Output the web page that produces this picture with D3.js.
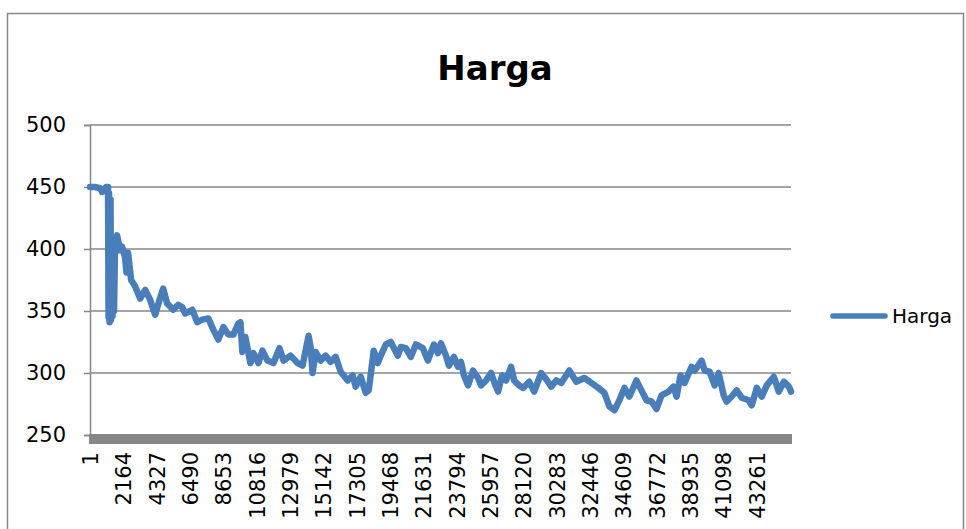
<!DOCTYPE html>
<html>
<head>
<meta charset="utf-8">
<script src="https://cdn.jsdelivr.net/npm/d3@7"></script>
<style>
  body { margin: 0; background: #fff; }
  text { font-family: "DejaVu Sans", sans-serif; fill: #000; }
</style>
</head>
<body>
<script>
// chart data (row number, price)
const seriesName = "Harga";
const rowCount = 45486;
const rows = [1, 325, 651, 781, 911, 1041, 1171, 1204, 1236, 1269, 1334, 1366, 1431, 1464, 1529, 1561, 1627, 1757, 1952, 2082,
  2277, 2370, 2472, 2667, 2928, 3253, 3578, 3904, 4229, 4489, 4749, 5010, 5400, 5725, 5985, 6181, 6636, 6961, 7287, 7677, 8002,
  8328, 8653, 8978, 9304, 9629, 9759, 9889, 10084, 10410, 10605, 10930, 11190, 11516, 11906, 12296, 12557, 13012, 13467, 13793, 14183,
  14313, 14443, 14639, 14964, 15289, 15614, 15940, 16265, 16720, 17046, 17241, 17566, 17892, 18087, 18412, 18673, 18867, 19193, 19518, 19974,
  20169, 20494, 20819, 21145, 21600, 21925, 22316, 22576, 22771, 23097, 23292, 23617, 23877, 24072, 24267, 24528, 24853, 25178, 25373, 25699,
  26024, 26219, 26479, 26740, 27000, 27325, 27520, 27846, 28106, 28496, 28822, 29277, 29602, 29928, 30253, 30578, 31099, 31554, 32075, 32530,
  32985, 33376, 33701, 34026, 34352, 34677, 35002, 35458, 35783, 36108, 36434, 36759, 37084, 37540, 37865, 38060, 38320, 38581, 39036, 39231,
  39687, 39882, 40207, 40532, 40793, 41118, 41313, 41638, 41964, 42289, 42744, 42940, 43265, 43590, 43915, 44371, 44696, 45021, 45346, 45486];
const harga = [450, 450, 449, 446, 447, 450, 450, 345, 445, 341, 440, 343, 405, 346, 402, 350, 405, 411, 399, 402,
  393, 381, 397, 375, 370, 360, 367, 359, 347, 358, 368, 356, 351, 355, 353, 348, 351, 341, 343, 344, 335,
  327, 337, 331, 331, 340, 341, 317, 329, 308, 316, 308, 318, 310, 308, 320, 310, 314, 308, 306, 330,
  321, 300, 317, 310, 314, 309, 313, 301, 294, 298, 289, 297, 284, 286, 318, 308, 314, 323, 325, 314,
  321, 320, 313, 323, 320, 310, 323, 316, 324, 314, 306, 313, 305, 309, 298, 290, 302, 296, 290, 294,
  300, 293, 285, 298, 294, 305, 294, 290, 288, 293, 285, 300, 295, 289, 294, 292, 302, 293, 296, 292,
  288, 284, 273, 270, 278, 288, 281, 294, 286, 278, 277, 271, 282, 285, 289, 281, 298, 292, 305, 302,
  310, 302, 301, 290, 300, 282, 277, 281, 286, 280, 278, 274, 288, 281, 290, 297, 285, 293, 289, 285];
const yTicks = [250, 300, 350, 400, 450, 500];
const xTickLabels = [1, 2164, 4327, 6490, 8653, 10816, 12979, 15142, 17305, 19468, 21631,
  23794, 25957, 28120, 30283, 32446, 34609, 36772, 38935, 41098, 43261];

const W = 966, H = 529;
const plotLeft = 90, plotRight = 791, plotTop = 125, plotBottom = 435;
const blue = "#4a7ebb", gray = "#878787";

const svg = d3.select("body").append("svg")
  .attr("width", W).attr("height", H);

// chart border
svg.append("rect")
  .attr("x", 7.5).attr("y", 13.5)
  .attr("width", 956).attr("height", 540)
  .attr("fill", "none").attr("stroke", gray).attr("stroke-width", 1.5);

const x = d3.scaleLinear().domain([0.5, rowCount + 0.5]).range([plotLeft, plotRight]);
const y = d3.scaleLinear().domain([250, 500]).range([plotBottom, plotTop]);

// gridlines
svg.append("g").selectAll("line")
  .data(yTicks.slice(1))
  .join("line")
  .attr("x1", plotLeft).attr("x2", plotRight)
  .attr("y1", d => y(d)).attr("y2", d => y(d))
  .attr("stroke", gray).attr("stroke-width", 1.5);

// y axis
const yAxis = d3.axisLeft(y).tickValues(yTicks).tickSize(6).tickPadding(18);
const gy = svg.append("g").attr("transform", "translate(" + plotLeft + ",0)").call(yAxis);
gy.select(".domain").attr("stroke", gray).attr("stroke-width", 1.5);
gy.selectAll(".tick line").attr("stroke", gray).attr("stroke-width", 1.5);
gy.selectAll("text").attr("font-size", 21).attr("font-family", "DejaVu Sans").attr("fill", "#000");

// thick floor line at 250
svg.append("rect")
  .attr("x", plotLeft - 1).attr("y", y(250) - 1)
  .attr("width", plotRight - plotLeft + 2).attr("height", 10)
  .attr("fill", gray);

// x axis labels
const xAxis = d3.axisBottom(x).tickValues(xTickLabels).tickSize(0).tickFormat(d3.format("d"));
const gx = svg.append("g").attr("transform", "translate(0," + plotBottom + ")").call(xAxis);
gx.select(".domain").remove();
gx.selectAll("text")
  .attr("font-size", 21).attr("font-family", "DejaVu Sans").attr("fill", "#000")
  .attr("transform", "rotate(-90)")
  .attr("text-anchor", "end")
  .attr("x", -17).attr("y", 0).attr("dy", "0.36em");

// the price line
const line = d3.line().x((d, i) => x(rows[i])).y(d => y(d));
svg.append("path")
  .datum(harga)
  .attr("d", line)
  .attr("fill", "none").attr("stroke", blue)
  .attr("stroke-width", 6.5)
  .attr("stroke-linejoin", "round").attr("stroke-linecap", "round");

// title
svg.append("text")
  .attr("x", 495).attr("y", 80)
  .attr("text-anchor", "middle")
  .attr("font-size", 34).attr("font-weight", "bold")
  .text(seriesName);

// legend
svg.append("line")
  .attr("x1", 833).attr("x2", 885).attr("y1", 316).attr("y2", 316)
  .attr("stroke", blue).attr("stroke-width", 5.5).attr("stroke-linecap", "round");
svg.append("text")
  .attr("x", 892).attr("y", 323)
  .attr("font-size", 20)
  .text(seriesName);
</script>
</body>
</html>
